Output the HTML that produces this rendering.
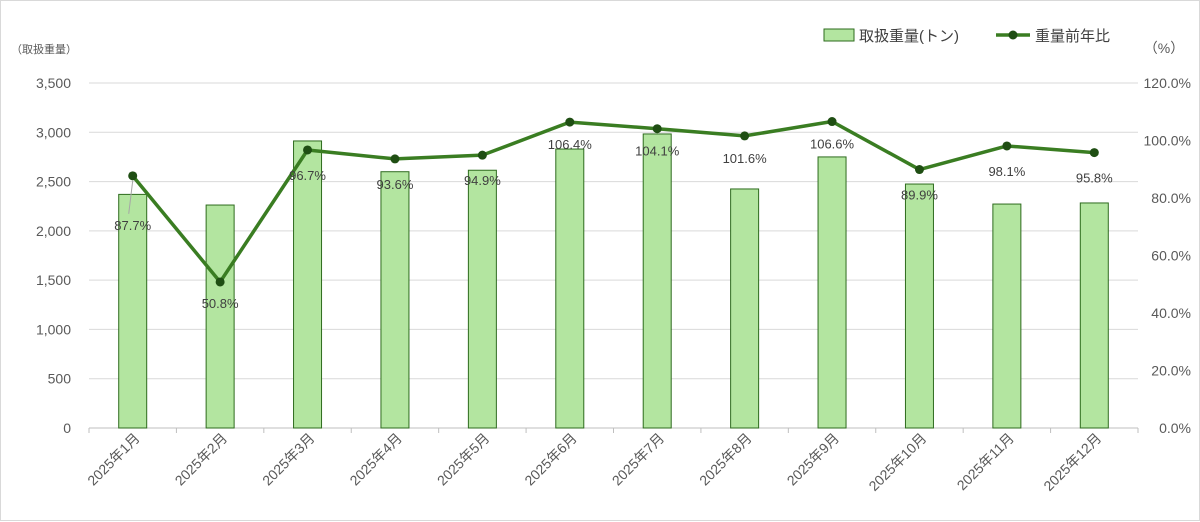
<!DOCTYPE html>
<html><head><meta charset="utf-8"><style>
body{margin:0;background:#fff;}
#wrap{position:relative;width:1200px;height:521px;box-sizing:border-box;border:1px solid #d9d9d9;background:#fff;}
svg{position:absolute;left:0;top:0;font-family:"Liberation Sans","Noto Sans CJK JP",sans-serif;}
</style></head><body>
<div id="wrap">
<svg id="chart" width="1200" height="521"></svg>
</div>
<script>
const categories=["2025年1月","2025年2月","2025年3月","2025年4月","2025年5月","2025年6月","2025年7月","2025年8月","2025年9月","2025年10月","2025年11月","2025年12月"];
const weightValues=[2370,2262,2912,2600,2615,2830,2983,2425,2750,2475,2272,2283];
const ratioValues=[87.7,50.8,96.7,93.6,94.9,106.4,104.1,101.6,106.6,89.9,98.1,95.8];
const leftTicks=[0,500,1000,1500,2000,2500,3000,3500];
const rightTicks=[0,20,40,60,80,100,120];
const NS="http://www.w3.org/2000/svg";
const svg=document.getElementById('chart');
const X0=88,X1=1137,Y0=427,Y1=82;
const bw=(X1-X0)/categories.length;
const xc=i=>X0+bw*(i+0.5);
const yL=v=>Y0-(v/3500)*(Y0-Y1);
const yR=v=>Y0-(v/120)*(Y0-Y1);
function mk(t,a,txt){const e=document.createElementNS(NS,t);for(const k in a)e.setAttribute(k,a[k]);if(txt!==undefined)e.textContent=txt;svg.appendChild(e);return e;}
leftTicks.forEach(v=>{
 const g=mk('line',{x1:X0,x2:X1,y1:yL(v),y2:yL(v),stroke:v===0?'#bfbfbf':'#d9d9d9','stroke-width':1});
 
 
 const t=mk('text',{x:70,y:yL(v)+5,'text-anchor':'end','font-size':14,fill:'#595959'},v.toLocaleString('en-US'));
 
 
});
rightTicks.forEach(v=>{
 const t=mk('text',{x:1190,y:yR(v)+5,'text-anchor':'end','font-size':14,fill:'#595959'},v.toFixed(1)+'%');
 
 
});
for(let i=0;i<=categories.length;i++){
 const l=mk('line',{x1:X0+bw*i,x2:X0+bw*i,y1:Y0,y2:Y0+5,stroke:'#bfbfbf'});
 
 
}
let t=mk('text',{x:10,y:52,'font-size':11,fill:'#595959'},'（取扱重量）');


t=mk('text',{x:1163,y:52,'text-anchor':'middle','font-size':14,fill:'#595959'},'（%）');


weightValues.forEach((v,i)=>{
 const r=mk('rect',{x:xc(i)-14,y:yL(v),width:28,height:Y0-yL(v),fill:'#b3e5a0',stroke:'#2e6b1e','stroke-width':1});
 
 
});
categories.forEach((c,i)=>{
 const x=xc(i)+8,y=438;
 const tx=mk('text',{x:x,y:y,'text-anchor':'end','font-size':14,fill:'#595959',transform:`rotate(-45 ${x} ${y})`},c);
 
 
});
const pts=ratioValues.map((v,i)=>xc(i)+','+yR(v)).join(' ');
const pl=mk('polyline',{points:pts,fill:'none',stroke:'#3a7d22','stroke-width':3.5,'stroke-linejoin':'round'});


ratioValues.forEach((v,i)=>{
 const c=mk('circle',{cx:xc(i),cy:yR(v),r:4.5,fill:'#1f4e13'});
 
 
 const dy=(i===1)?26:(i===0?54:(v>100?27:30));
 const dy2=(i===5||i===8)?-18+0:dy;
 const ly=(i===5||i===8)?yR(v)+27:yR(v)+dy2;
 const lb=mk('text',{x:xc(i),y:ly,'text-anchor':'middle','font-size':13,fill:'#404040'},v.toFixed(1)+'%');
 
 
});
// leader line for Jan
let ld=mk('line',{x1:xc(0),y1:yR(ratioValues[0])+5,x2:xc(0)-4,y2:yR(ratioValues[0])+38,stroke:'#a6a6a6'});


// legend
let lr=mk('rect',{x:823,y:28,width:30,height:12,fill:'#b3e5a0',stroke:'#2e6b1e'});


let lt=mk('text',{x:858,y:40,'font-size':15,fill:'#404040'},'取扱重量(トン)');


let ll=mk('line',{x1:995,x2:1029,y1:34,y2:34,stroke:'#3a7d22','stroke-width':3.5});


let lc=mk('circle',{cx:1012,cy:34,r:4.5,fill:'#1f4e13'});


let lt2=mk('text',{x:1034,y:40,'font-size':15,fill:'#404040'},'重量前年比');


</script>
</body></html>
